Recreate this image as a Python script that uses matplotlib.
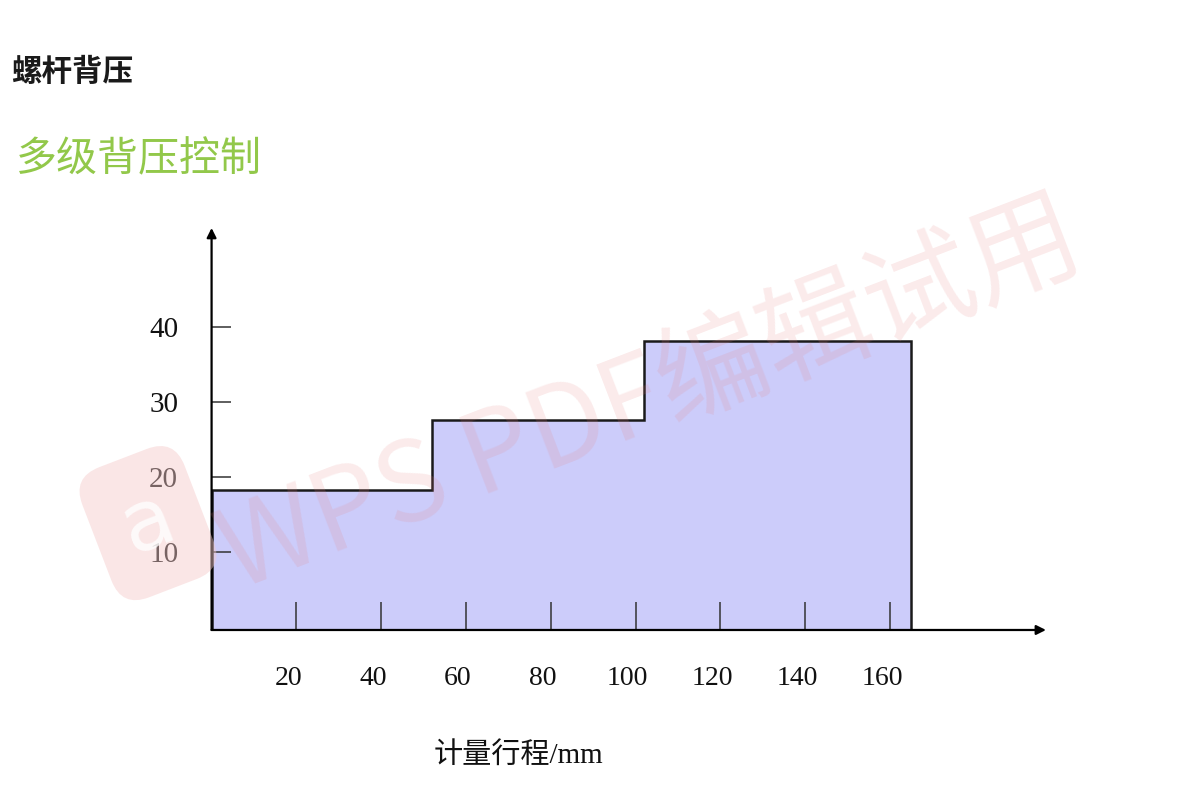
import matplotlib.pyplot as plt
import matplotlib.transforms as mtransforms

# stepped back pressure profile
stroke_edges = [0, 52, 102, 165]      # metering stroke, mm
pressure = [18.3, 27.6, 38.2]         # back pressure levels
x_ticks = [20, 40, 60, 80, 100, 120, 140, 160]
y_ticks = [10, 20, 30, 40]

title = '螺杆背压'
subtitle = '多级背压控制'
x_label = '计量行程/mm'
watermark = 'WPS PDF编辑试用'

cjk = ['Liberation Serif', 'Noto Sans CJK SC', 'DejaVu Sans']

fig = plt.figure(figsize=(11.84, 8.11), dpi=100)
ax = fig.add_axes([0.1787, 0.2232, 0.7047, 0.4957])

y_min, y_max = -0.5, 53.3
ax.set_xlim(0, 196.8)
ax.set_ylim(y_min, y_max)

# filled steps and their outline
ax.stairs(pressure, stroke_edges, baseline=y_min, fill=True,
          color='#ccccfa', zorder=1)
ax.stairs(pressure, stroke_edges, baseline=y_min, fill=False,
          color='#1a1a1a', linewidth=1.8, zorder=2)

for side in ['top', 'right', 'left', 'bottom']:
    ax.spines[side].set_visible(False)

# axes with arrow heads
arrow = dict(arrowstyle='-|>', color='black', lw=1.6, mutation_scale=14,
             shrinkA=0, shrinkB=0)
ax.annotate('', xy=(1, 0), xycoords='axes fraction', xytext=(0, 0),
            arrowprops=arrow, zorder=3)
ax.annotate('', xy=(0, 1), xycoords='axes fraction', xytext=(0, 0),
            arrowprops=arrow, zorder=3)

ax.set_xticks(x_ticks)
ax.set_xticklabels([str(v) for v in x_ticks])
ax.set_yticks(y_ticks)
ax.set_yticklabels([str(v) for v in y_ticks])
ax.tick_params(axis='x', direction='in', length=20, width=1.1,
               color='#333333', pad=26, labelsize=20)
ax.tick_params(axis='y', direction='in', length=14, width=1.1,
               color='#333333', pad=24, labelsize=21)
# the x labels sit a little left of their tick marks
shift = mtransforms.ScaledTranslation(-8 / 100, 0, fig.dpi_scale_trans)
for lbl in ax.get_xticklabels():
    lbl.set_transform(lbl.get_transform() + shift)
for lbl in ax.get_xticklabels() + ax.get_yticklabels():
    lbl.set_family('Liberation Serif')
    lbl.set_color('#111111')

fig.text(518 / 1184, 1 - 755 / 811, x_label, ha='center', va='center',
         fontsize=21, family=cjk, color='#111111')

fig.text(11 / 1184, 1 - 72 / 811, title, ha='left', va='center',
         fontsize=22, fontweight='bold', family=['Noto Sans CJK SC'],
         color='#1a1a1a')
fig.text(16 / 1184, 1 - 160 / 811, subtitle, ha='left', va='center',
         fontsize=29.5, family=['Noto Sans CJK SC'], color='#92c84a')

# faint trial watermark over the chart
fig.text(0.55, 0.51, watermark, ha='center', va='center', rotation=21,
         fontsize=80, family=['Noto Sans CJK SC'],
         color='#e88080', alpha=0.16, zorder=10)
fig.text(0.125, 0.355, 'a', ha='center', va='center', rotation=21,
         fontsize=60, color='white', alpha=0.8,
         family=['DejaVu Sans'], zorder=10,
         bbox=dict(boxstyle='round,pad=0.35', fc='#f5c8c8', ec='none',
                   alpha=0.45))

fig.savefig('out.png', dpi=100)
